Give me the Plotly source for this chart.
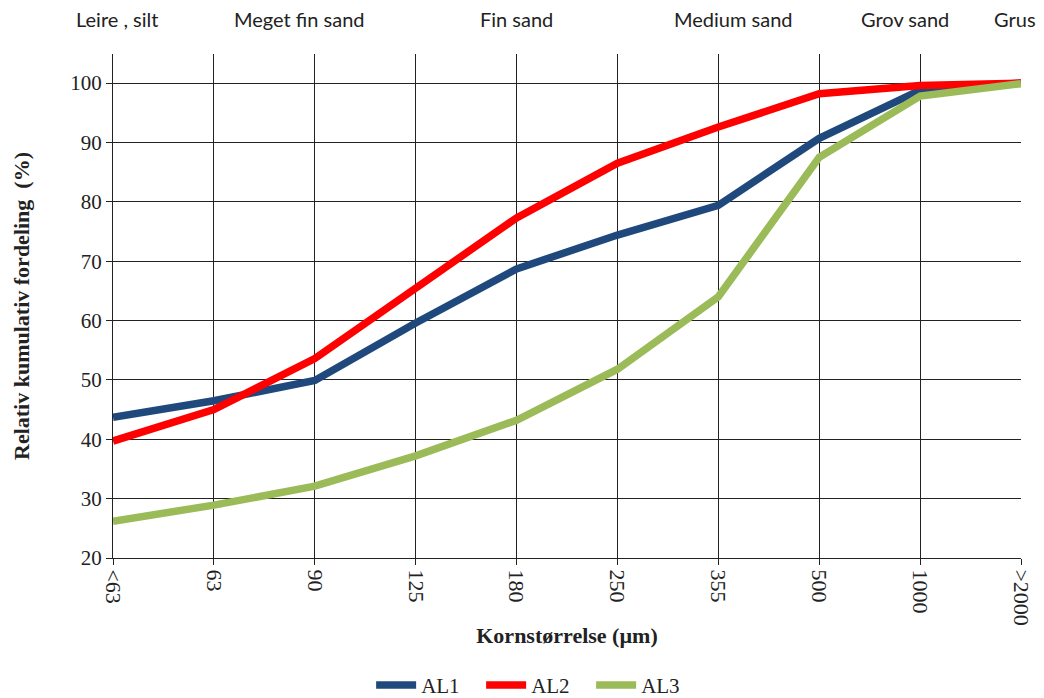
import plotly.graph_objects as go

categories = ["<63", "63", "90", "125", "180", "250", "355", "500", "1000", ">2000"]
al1 = [43.7, 46.5, 49.9, 59.6, 68.7, 74.4, 79.4, 90.7, 98.8, 100.0]
al2 = [39.7, 45.0, 53.6, 65.6, 77.3, 86.5, 92.6, 98.2, 99.6, 100.0]
al3 = [26.2, 28.9, 32.1, 37.2, 43.2, 51.8, 64.0, 87.5, 97.8, 99.9]
series_names = ["AL1", "AL2", "AL3"]
colors = ["#1F497D", "#FF0000", "#9BBB59"]
zone_labels = ["Leire , silt", "Meget fin sand", "Fin sand", "Medium sand", "Grov sand", "Grus"]
zone_pos = [0.04, 1.85, 4.0, 6.15, 7.85, 8.94]

xs = list(range(len(categories)))
fig = go.Figure()
for name, vals, col in zip(series_names, [al1, al2, al3], colors):
    fig.add_trace(go.Scatter(x=xs, y=vals, mode="lines", name=name,
                             line=dict(color=col, width=7.5)))

serif = "Liberation Serif, Times New Roman, serif"
sans = "Lato, Open Sans, sans-serif"

for lab, pos in zip(zone_labels, zone_pos):
    fig.add_annotation(x=pos, y=1.0, xref="x", yref="paper", yshift=35,
                       text=lab, showarrow=False, yanchor="middle",
                       borderpad=0,
                       font=dict(family=sans, size=20, color="#222"))

# page body adds an 8px offset, so the figure is drawn 8px smaller
fig.update_layout(
    width=1036, height=690,
    margin=dict(l=105, r=23, t=46, b=140, autoexpand=False),
    paper_bgcolor="white", plot_bgcolor="white",
    showlegend=True,
    legend=dict(orientation="h", x=0.466, xanchor="center", y=-0.212, yanchor="top",
                font=dict(family=serif, size=21, color="#222"),
                entrywidth=55, entrywidthmode="pixels", itemwidth=40,
                tracegroupgap=0),
    xaxis=dict(range=[0, 9], tickmode="array", tickvals=xs, ticktext=categories,
               tickangle=90, showgrid=True, gridcolor="#222", gridwidth=1,
               showline=True, linecolor="#222", linewidth=1,
               ticks="outside", ticklen=6, tickcolor="#222",
               tickfont=dict(family=serif, size=22, color="#222"),
               zeroline=False, automargin=False,
               title=dict(text="<b>Kornstørrelse (µm)</b>",
                          font=dict(family=serif, size=22, color="#222"), standoff=2)),
    yaxis=dict(range=[20, 104.9], tick0=20, dtick=10,
               showgrid=True, gridcolor="#222", gridwidth=1,
               showline=True, linecolor="#222", linewidth=1,
               ticks="outside", ticklen=6, tickcolor="#222",
               tickfont=dict(family=serif, size=21, color="#222"),
               zeroline=False, automargin=False,
               title=dict(text="<b>Relativ kumulativ fordeling  (%)</b>",
                          font=dict(family=serif, size=22, color="#222"), standoff=34)),
)

fig.write_html("out.html")
